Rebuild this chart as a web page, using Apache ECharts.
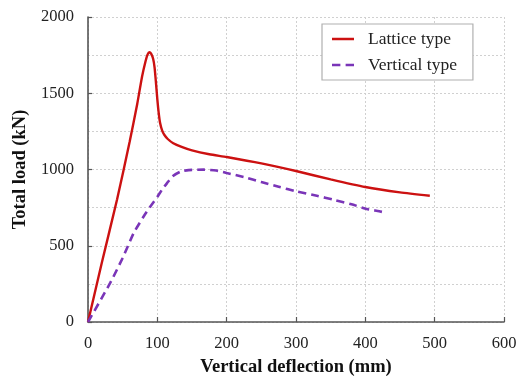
<!DOCTYPE html>
<html><head><meta charset="utf-8">
<script src="https://cdn.jsdelivr.net/npm/echarts@6/dist/echarts.min.js"></script>
<style>html,body{margin:0;padding:0;background:#fff}#c{width:527px;height:376px}</style>
</head><body><div id="c"></div>
<script>
const xTicks = [0, 100, 200, 300, 400, 500, 600];
const yTicks = [0, 500, 1000, 1500, 2000];
const latticeX = [0, 20, 42, 60, 71, 78, 83, 86, 88.5, 91, 94, 96, 98, 100, 102, 104, 107, 110, 115, 123, 135, 150, 175, 200, 250, 300, 350, 400, 450, 493];
const latticeY = [0, 390, 805, 1180, 1430, 1610, 1710, 1755, 1770, 1760, 1725, 1670, 1570, 1460, 1370, 1305, 1255, 1228, 1200, 1172, 1148, 1125, 1100, 1082, 1040, 990, 935, 885, 850, 828];
const verticalX = [0, 32, 50, 66, 80, 90, 100, 107, 114, 122, 133, 145, 167, 185, 200, 225, 250, 275, 300, 330, 354, 380, 402, 420, 431];
const verticalY = [0, 256, 420, 584, 690, 758, 820, 870, 911, 955, 985, 996, 999, 993, 977, 950, 918, 887, 857, 828, 802, 772, 741, 726, 715];
const toPairs = (xs, ys) => xs.map((x, i) => [x, ys[i]]);
const serif = 'Liberation Serif';
const chart = echarts.init(document.getElementById('c'));
chart.setOption({
  animation: false,
  backgroundColor: '#fff',
  grid: { left: 88, right: 23, top: 17, bottom: 54, containLabel: false, outerBoundsMode: 'none' },
  legend: {
    left: 322, top: 24,
    orient: 'vertical',
    backgroundColor: '#fff',
    borderColor: '#b0b0b0', borderWidth: 1.2, borderRadius: 0,
    padding: [6, 16, 6, 10],
    itemWidth: 22, itemHeight: 10, itemGap: 8,
    textStyle: { fontFamily: serif, fontSize: 17.5, color: '#222', padding: [0, 0, 0, 9] },
    data: [
      { name: 'Lattice type', icon: 'path://M0,4 L22,4 L22,6.5 L0,6.5 Z' },
      { name: 'Vertical type', icon: 'path://M0,4 L8,4 L8,6.5 L0,6.5 Z M13,4 L21,4 L21,6.5 L13,6.5 Z' }
    ]
  },
  xAxis: {
    type: 'value', min: xTicks[0], max: xTicks[xTicks.length - 1], interval: 100,
    name: 'Vertical deflection (mm)', nameLocation: 'middle', nameGap: 36,
    nameTextStyle: { fontFamily: serif, fontSize: 18.5, fontWeight: 'bold', color: '#111' },
    axisLine: { show: true, lineStyle: { color: '#555', width: 1.6 } },
    axisTick: { show: true, inside: true, length: 5, lineStyle: { color: '#555', width: 1.2 } },
    axisLabel: { fontFamily: serif, fontSize: 16.5, color: '#222', margin: 13, formatter: v => String(v) },
    splitLine: { show: true, lineStyle: { color: '#d0d0d0', type: [2, 2], width: 1 } }
  },
  yAxis: {
    type: 'value', min: yTicks[0], max: yTicks[yTicks.length - 1], interval: 500,
    name: 'Total load (kN)', nameLocation: 'middle', nameGap: 51,
    nameTextStyle: { fontFamily: serif, fontSize: 18.5, fontWeight: 'bold', color: '#111' },
    axisLine: { show: true, lineStyle: { color: '#555', width: 1.6 } },
    axisTick: { show: true, inside: true, length: 4, lineStyle: { color: '#555', width: 1.2 } },
    axisLabel: { fontFamily: serif, fontSize: 16.5, color: '#222', margin: 14, formatter: v => String(v) },
    splitLine: { show: true, lineStyle: { color: '#d0d0d0', type: [2, 2], width: 1 } },
    minorTick: { show: false, splitNumber: 2 },
    minorSplitLine: { show: true, lineStyle: { color: '#d0d0d0', type: [2, 2], width: 1 } }
  },
  series: [
    {
      name: 'Lattice type', type: 'line', data: toPairs(latticeX, latticeY),
      showSymbol: false, smooth: 0.2,
      lineStyle: { color: '#cc1111', width: 2.4 }, itemStyle: { color: '#cc1111' }
    },
    {
      name: 'Vertical type', type: 'line', data: toPairs(verticalX, verticalY),
      showSymbol: false, smooth: 0.2,
      lineStyle: { color: '#7a35b8', width: 2.6, type: [8, 5] }, itemStyle: { color: '#7a35b8' }
    }
  ]
});
</script></body></html>
